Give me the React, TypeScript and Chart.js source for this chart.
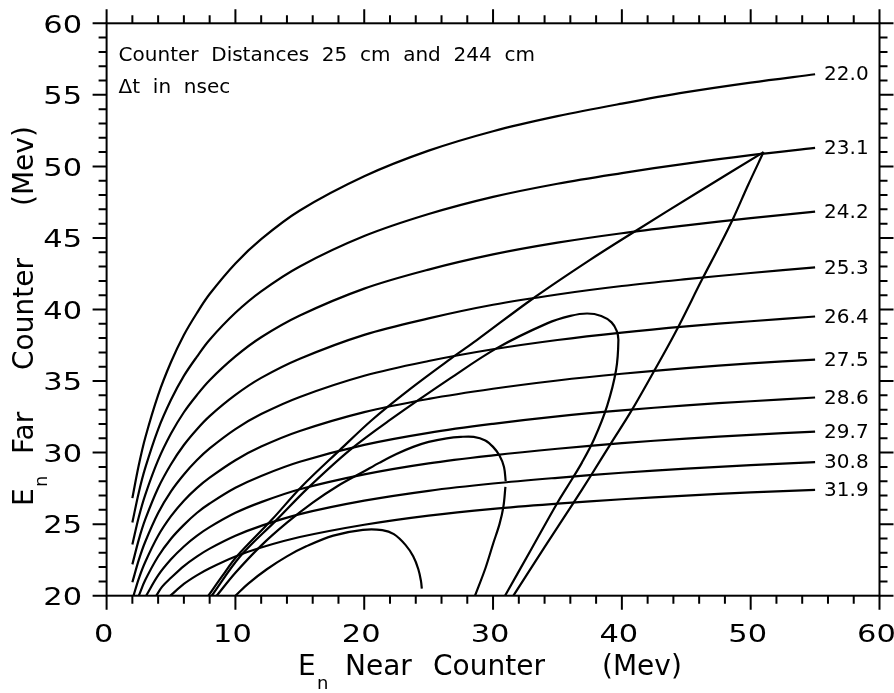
import React, { useEffect, useRef } from 'react';
import { Chart, registerables } from 'chart.js';

Chart.register(...registerables);

type Pt = [number, number];

// ---- axis ticks ----
const xMajorTicks = [0, 10, 20, 30, 40, 50, 60];
const xMinorTicks = [0, 2, 4, 6, 8, 10, 12, 14, 16, 18, 20, 22, 24, 26, 28, 30, 32, 34, 36, 38, 40, 42, 44, 46, 48, 50, 52, 54, 56, 58, 60];
const yMajorTicks = [20, 25, 30, 35, 40, 45, 50, 55, 60];
const yMinorTicks = [20, 21, 22, 23, 24, 25, 26, 27, 28, 29, 30, 31, 32, 33, 34, 35, 36, 37, 38, 39, 40, 41, 42, 43, 44, 45, 46, 47, 48, 49, 50, 51, 52, 53, 54, 55, 56, 57, 58, 59, 60];

// ---- Δt curves (E near, E far) ----
const dtLabels = ['22.0', '23.1', '24.2', '25.3', '26.4', '27.5', '28.6', '29.7', '30.8', '31.9'];

const dt220: Pt[] = [[2, 26.82], [2.5, 29.13], [3, 31.04], [4, 34.02], [5, 36.33], [6, 38.22], [7, 39.74], [8, 41.08], [10, 43.22], [12, 44.92], [15, 46.92], [20, 49.31], [25, 51.1], [30, 52.46], [35, 53.51], [40, 54.39], [45, 55.19], [50, 55.86], [55, 56.44]];
const dt231: Pt[] = [[2, 25.12], [2.5, 27.22], [3, 28.93], [4, 31.63], [5, 33.69], [6, 35.36], [7, 36.69], [8, 37.89], [10, 39.77], [12, 41.27], [15, 43.01], [20, 45.13], [25, 46.67], [30, 47.87], [35, 48.79], [40, 49.53], [45, 50.2], [50, 50.79], [55, 51.29]];
const dt242: Pt[] = [[2, 23.58], [2.5, 25.5], [3, 27.05], [4, 29.47], [5, 31.33], [6, 32.82], [7, 34.01], [8, 35.06], [10, 36.72], [12, 38.06], [15, 39.58], [20, 41.46], [25, 42.79], [30, 43.85], [35, 44.67], [40, 45.33], [45, 45.88], [50, 46.39], [55, 46.84]];
const dt253: Pt[] = [[2, 22.19], [2.5, 23.92], [3, 25.33], [4, 27.53], [5, 29.19], [6, 30.53], [7, 31.62], [8, 32.55], [10, 34.03], [12, 35.22], [15, 36.56], [20, 38.23], [25, 39.38], [30, 40.33], [35, 41.05], [40, 41.64], [45, 42.12], [50, 42.55], [55, 42.94]];
const dt264: Pt[] = [[2, 20.94], [2.5, 22.5], [3, 23.77], [4, 25.78], [5, 27.29], [6, 28.47], [7, 29.46], [8, 30.29], [10, 31.64], [12, 32.69], [15, 33.89], [20, 35.37], [25, 36.4], [30, 37.22], [35, 37.87], [40, 38.39], [45, 38.82], [50, 39.18], [55, 39.51]];
const dt275: Pt[] = [[2.09, 20.0], [2.5, 21.2], [3, 22.36], [4, 24.19], [5, 25.56], [6, 26.64], [7, 27.52], [8, 28.25], [10, 29.47], [12, 30.42], [15, 31.51], [20, 32.83], [25, 33.75], [30, 34.46], [35, 35.04], [40, 35.51], [45, 35.9], [50, 36.23], [55, 36.5]];
const dt286: Pt[] = [[2.5, 20.0], [3, 21.09], [4, 22.74], [5, 23.98], [6, 24.95], [7, 25.78], [8, 26.44], [10, 27.54], [12, 28.37], [15, 29.36], [20, 30.54], [25, 31.38], [30, 32.01], [35, 32.53], [40, 32.95], [45, 33.3], [50, 33.59], [55, 33.85]];
const dt297: Pt[] = [[3.07, 20.0], [4, 21.42], [5, 22.54], [6, 23.44], [7, 24.18], [8, 24.79], [10, 25.79], [12, 26.54], [15, 27.44], [20, 28.48], [25, 29.25], [30, 29.81], [35, 30.27], [40, 30.66], [45, 30.98], [50, 31.24], [55, 31.47]];
const dt308: Pt[] = [[3.86, 20.0], [4.3, 20.62], [5, 21.25], [6, 22.07], [7, 22.73], [8, 23.29], [10, 24.19], [12, 24.88], [15, 25.7], [20, 26.64], [25, 27.33], [30, 27.84], [35, 28.24], [40, 28.59], [45, 28.88], [50, 29.12], [55, 29.33]];
const dt319: Pt[] = [[4.95, 20.0], [6, 20.82], [7, 21.42], [8, 21.92], [10, 22.74], [12, 23.37], [15, 24.1], [20, 24.96], [25, 25.6], [30, 26.07], [35, 26.43], [40, 26.74], [45, 27.0], [50, 27.22], [55, 27.4]];

const dtCurves: Pt[][] = [dt220, dt231, dt242, dt253, dt264, dt275, dt286, dt297, dt308, dt319];

// ---- kinematic loci ----
const locusA: Pt[] = [[10, 20], [11, 20.85], [12.44, 21.85], [14, 22.75], [15.5, 23.45], [17.6, 24.2], [19.9, 24.6], [21.4, 24.58], [22.3, 24.3], [23.2, 23.55], [23.8, 22.75], [24.2, 21.85], [24.4, 21.05], [24.47, 20.5]];
const locusBUpper: Pt[] = [[8.55, 20], [10, 21.6], [12, 23.5], [14, 25.1], [16, 26.5], [18, 27.7], [20, 28.7], [21.2, 29.3], [22.5, 29.9], [23.8, 30.4], [25, 30.75], [26.4, 31.0], [27.5, 31.1], [28.5, 31.1], [29.4, 30.85], [30.0, 30.4], [30.5, 29.8], [30.85, 29.0], [30.98, 28.0]];
const locusBLower: Pt[] = [[30.96, 27.6], [30.8, 26.2], [30.5, 25.0], [30.03, 23.7], [29.4, 21.9], [28.6, 20.0]];
const locusC: Pt[] = [[8.16, 20], [10.36, 22.74], [13.2, 25.3], [15.6, 27.5], [18.9, 30.19], [22.0, 32.28], [26.7, 35.2], [30.3, 37.3], [34.2, 39.03], [36, 39.55], [37.3, 39.72], [38.4, 39.55], [39.2, 39.1], [39.6, 38.5], [39.73, 37.86], [39.55, 35.77], [38.85, 33.25], [37.85, 30.95], [36.9, 29.3], [36.1, 28.1], [35.0, 26.5], [33.0, 23.3], [30.93, 20.0]];
const locusDLeft: Pt[] = [[7.9, 20], [9, 21.4], [10.1, 22.74], [12.82, 25.3], [15.15, 27.63], [18.12, 30.19], [20.6, 32.28], [23.5, 34.4], [26.7, 36.55], [28.74, 37.86], [33.1, 40.77], [37.5, 43.45], [41.0, 45.45], [46, 48.25], [51, 51]];
const locusDRight: Pt[] = [[51, 51], [49.8, 48.7], [48.66, 46.4], [47.5, 44.3], [46.33, 42.28], [44.1, 38.3], [42.44, 35.6], [40.7, 32.86], [39.08, 30.54], [37.6, 28.4], [36.23, 26.47], [34, 23.4], [31.58, 20]];

const loci: Pt[][] = [locusA, locusBUpper, locusBLower, locusC, locusDLeft, locusDRight];

const FONT = '"DejaVu Sans", "Liberation Sans", sans-serif';

const toXY = (pts: Pt[]) => pts.map(([x, y]) => ({ x, y }));

const framePlugin = {
  id: 'frameAndText',
  afterDraw(chart: any) {
    const { ctx, chartArea } = chart;
    const { left, right, top, bottom } = chartArea;
    const xs = chart.scales.x;
    const ys = chart.scales.y;
    ctx.save();
    ctx.strokeStyle = '#000';
    ctx.lineWidth = 2;
    ctx.lineCap = 'square';
    ctx.strokeRect(left, top, right - left, bottom - top);
    ctx.lineCap = 'butt';
    ctx.beginPath();
    xMinorTicks.forEach((v) => {
      const px = xs.getPixelForValue(v);
      const len = xMajorTicks.includes(v) ? 14 : 8;
      ctx.moveTo(px, bottom);
      ctx.lineTo(px, bottom + len);
      ctx.moveTo(px, top);
      ctx.lineTo(px, top - len);
    });
    yMinorTicks.forEach((v) => {
      const py = ys.getPixelForValue(v);
      const len = yMajorTicks.includes(v) ? 14 : 8;
      ctx.moveTo(left, py);
      ctx.lineTo(left - len, py);
      ctx.moveTo(right, py);
      ctx.lineTo(right + len, py);
    });
    ctx.stroke();

    ctx.fillStyle = '#000';
    // tick labels
    ctx.font = `25px ${FONT}`;
    ctx.textBaseline = 'alphabetic';
    ctx.textAlign = 'right';
    yMajorTicks.forEach((v) => {
      ctx.save();
      ctx.translate(left - 24.5, ys.getPixelForValue(v) + 9.2);
      ctx.scale(1.22, 1);
      ctx.fillText(String(v), 0, 0);
      ctx.restore();
    });
    ctx.textAlign = 'center';
    xMajorTicks.forEach((v) => {
      ctx.save();
      ctx.translate(xs.getPixelForValue(v) - 3, bottom + 46);
      ctx.scale(1.22, 1);
      ctx.fillText(String(v), 0, 0);
      ctx.restore();
    });

    // curve labels
    ctx.font = `20px ${FONT}`;
    ctx.textAlign = 'left';
    ctx.textBaseline = 'middle';
    dtCurves.forEach((c, i) => {
      const last = c[c.length - 1];
      ctx.fillText(dtLabels[i], xs.getPixelForValue(last[0]) + 9, ys.getPixelForValue(last[1]) + 1);
    });

    // annotations
    ctx.textBaseline = 'alphabetic';
    ctx.fillText('Counter  Distances  25  cm  and  244  cm', left + 12, top + 38);
    ctx.fillText('\u0394t  in  nsec', left + 12, top + 70);

    // axis titles
    const drawTitle = (words: [string, number][]) => {
      ctx.font = `28px ${FONT}`;
      ctx.fillText('E', 0, 0);
      ctx.font = `18px ${FONT}`;
      ctx.fillText('n', 19, 14);
      ctx.font = `28px ${FONT}`;
      words.forEach(([w, off]) => ctx.fillText(w, off, 0));
    };
    ctx.save();
    ctx.translate(298, 675);
    drawTitle([['Near', 47], ['Counter', 135], ['(Mev)', 304]]);
    ctx.restore();
    ctx.save();
    ctx.translate(33, 506);
    ctx.rotate(-Math.PI / 2);
    drawTitle([['Far', 52], ['Counter', 136], ['(Mev)', 300]]);
    ctx.restore();
    ctx.restore();
  },
};

const TARGET = { left: 106.6, top: 23.3, right: 879.5, bottom: 595.7 };

export default function App() {
  const ref = useRef<HTMLCanvasElement | null>(null);
  useEffect(() => {
    document.body.style.margin = '0';
    const canvas = ref.current;
    if (!canvas) return;
    const sizes = { x: 693 - TARGET.bottom, x2: TARGET.top, y: TARGET.left, y2: 894 - TARGET.right };
    const lineStyle = {
      showLine: true,
      pointRadius: 0,
      borderColor: '#000',
      borderWidth: 2.2,
      tension: 0.35,
      fill: false,
    };
    const datasets = [
      ...dtCurves.map((c, i) => ({ label: dtLabels[i], data: toXY(c), ...lineStyle })),
      ...loci.map((c, i) => ({ label: 'locus' + i, data: toXY(c), ...lineStyle })),
    ];
    const hidden = {
      ticks: { display: false },
      grid: { display: false, drawTicks: false },
      border: { display: false },
    };
    const chart = new Chart(canvas, {
      type: 'scatter',
      data: { datasets },
      options: {
        responsive: false,
        animation: false,
        events: [],
        layout: { padding: 0, autoPadding: false },
        plugins: { legend: { display: false }, tooltip: { enabled: false } },
        scales: {
          x: {
            type: 'linear', position: 'bottom', min: 0, max: 60,
            afterBuildTicks: (s: any) => { s.ticks = xMajorTicks.map((v) => ({ value: v })); },
            ...hidden,
            afterFit: (s: any) => { s.height = sizes.x; },
          },
          x2: {
            type: 'linear', position: 'top', min: 0, max: 60,
            ...hidden,
            afterFit: (s: any) => { s.height = sizes.x2; },
          },
          y: {
            type: 'linear', position: 'left', min: 20, max: 60,
            afterBuildTicks: (s: any) => { s.ticks = yMajorTicks.map((v) => ({ value: v })); },
            ...hidden,
            afterFit: (s: any) => { s.width = sizes.y; },
          },
          y2: {
            type: 'linear', position: 'right', min: 20, max: 60,
            ...hidden,
            afterFit: (s: any) => { s.width = sizes.y2; },
          },
        },
      } as any,
      plugins: [framePlugin],
    });
    // correct any layout drift so the plot frame sits where the reference has it
    const ca = chart.chartArea;
    if (ca) {
      const dTop = ca.top - TARGET.top;
      const dLeft = ca.left - TARGET.left;
      const dRight = TARGET.right - ca.right;
      const dBottom = TARGET.bottom - ca.bottom;
      if (Math.abs(dTop) + Math.abs(dLeft) + Math.abs(dRight) + Math.abs(dBottom) > 0.5) {
        sizes.x2 = Math.max(0, sizes.x2 - dTop);
        sizes.y = Math.max(0, sizes.y - dLeft);
        sizes.y2 = Math.max(0, sizes.y2 - dRight);
        sizes.x = Math.max(0, sizes.x - dBottom);
        chart.update();
      }
    }
    return () => chart.destroy();
  }, []);
  return (
    <div style={{ position: 'absolute', left: 0, top: 0, width: 894, height: 693, background: '#fff' }}>
      <canvas ref={ref} width={894} height={693} style={{ display: 'block', width: 894, height: 693 }} />
    </div>
  );
}
